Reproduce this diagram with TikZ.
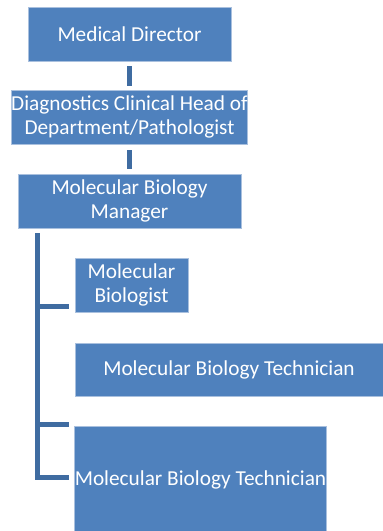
\documentclass[tikz,border=0pt]{standalone}
\usepackage{fontspec}
\setmainfont{Carlito}
\definecolor{boxblue}{HTML}{4F81BD}
\definecolor{boxedge}{HTML}{A9C0DE}
\definecolor{linkblue}{HTML}{3F6CA1}
\begin{document}
\begin{tikzpicture}[x=1pt,y=-1pt,
  orgbox/.style={rectangle, fill=boxblue, draw=boxedge, line width=0.8pt, inner sep=0pt,
    text=white, align=center, font=\fontsize{21.3}{24}\selectfont},
  link/.style={draw=linkblue, line width=5.5pt}]
\useasboundingbox (0,0) rectangle (383,531);
\clip (0,0) rectangle (383,531);
\node[orgbox, minimum width=203pt, minimum height=54pt] (md) at (129.5,34) {Medical Director};
\node[orgbox, minimum width=235pt, minimum height=54pt] (dh) at (129.5,117) {Diagnostics Clinical Head of\\Department/Pathologist};
\node[orgbox, minimum width=223pt, minimum height=54pt] (mgr) at (129.5,201) {Molecular Biology\\Manager};
\node[orgbox, minimum width=113pt, minimum height=54pt] (mb) at (131.5,285) {Molecular\\Biologist};
\node[orgbox, minimum width=308pt, minimum height=53pt] (t1) at (229,369.5) {Molecular Biology Technician};
\node[orgbox, minimum width=251pt, minimum height=108pt] (t2) at (200.5,480) {Molecular Biology Technician};
\draw[link, shorten <=5pt, shorten >=4pt] (md.south) -- (dh.north);
\draw[link, shorten <=6pt, shorten >=5pt] (dh.south) -- (mgr.north);
\coordinate (trunk) at (37.5,233);
\coordinate (b1) at (69,306.5);
\coordinate (b2) at (69,424);
\coordinate (b3) at (69,477);
\draw[link, line width=5pt] (trunk) |- (b3);
\draw[link, line width=5pt] (trunk |- b1) -- (b1);
\draw[link, line width=5pt] (trunk |- b2) -- (b2);
\end{tikzpicture}
\end{document}
